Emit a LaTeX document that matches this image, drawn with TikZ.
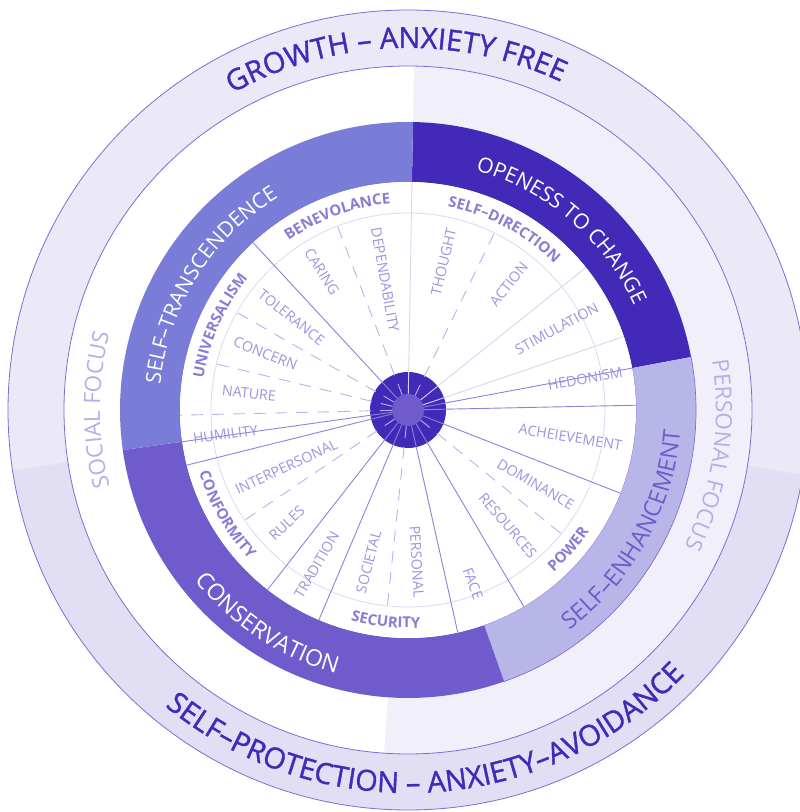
\documentclass[tikz,border=0pt]{standalone}
\usepackage{fontspec}
\setmainfont{Open Sans}
\newfontface\outerfont[FakeBold=1.2]{Open Sans}
\usetikzlibrary{decorations.text}
\definecolor{darkv}{HTML}{4329B8}
\definecolor{consv}{HTML}{6F5BCB}
\definecolor{transv}{HTML}{797DD7}
\definecolor{enhv}{HTML}{B8B6E9}
\definecolor{bandtop}{HTML}{EBE9F7}
\definecolor{bandbot}{HTML}{E2DEF4}
\definecolor{bandlight}{HTML}{F1F0FA}
\definecolor{edgev}{HTML}{7B6FD2}
\definecolor{spokemed}{HTML}{8C83D8}
\definecolor{spokelt}{HTML}{D8D4F2}
\definecolor{dashv}{HTML}{BAB3EA}
\definecolor{sublab}{HTML}{9D95E0}
\definecolor{catlab}{HTML}{877DD5}
\definecolor{focusv}{HTML}{B5AFE8}
\definecolor{innerc}{HTML}{DCD8F3}
\newcommand{\annsec}[5]{\fill[#1] (#2:#4) arc[start angle=#2,end angle=#3,radius=#4] -- (#3:#5) arc[start angle=#3,end angle=#2,radius=#5] -- cycle;}
\newcommand{\arctext}[5]{\path[decorate,decoration={text along path,text align=center,text={|#4|#5}}] (#2:#1) arc[start angle=#2,end angle=#3,radius=#1];}
\tikzset{
  sublabel/.style={text=sublab,font=\fontsize{14.3}{14.3}\selectfont,inner sep=0pt},
  spokeM/.style={draw=spokemed,line width=0.9pt},
  spokeL/.style={draw=spokelt,line width=0.9pt},
  spokeD/.style={draw=dashv,line width=0.9pt,dash pattern=on 12pt off 9pt},
}
\begin{document}
\begin{tikzpicture}[x=1pt,y=1pt]
\useasboundingbox (0,0) rectangle (800,812);
\clip (0,0) rectangle (800,812);
\fill[white] (0,0) rectangle (800,812);
\begin{scope}[shift={(408,402)}]
% outer band
\annsec{bandtop}{-9.3}{188.7}{400pt}{344pt}
\annsec{bandbot}{188.7}{350.7}{400pt}{344pt}
% inner band right half
\annsec{bandlight}{-94}{89}{344pt}{288pt}
\draw[edgev,line width=0.8pt] (0,0) circle[radius=400pt];
\draw[edgev,line width=0.8pt] (0,0) circle[radius=344pt];
% coloured ring
\annsec{darkv}{10.6}{89}{288pt}{228pt}
\annsec{enhv}{-70.5}{10.6}{288pt}{228pt}
\annsec{consv}{188}{289.5}{288pt}{228pt}
\annsec{transv}{89}{188}{288pt}{228pt}
\draw[edgev,line width=0.7pt] (-70.5:288pt) arc[start angle=-70.5,end angle=10.6,radius=288pt];
\draw[edgev,line width=0.7pt] (-70.5:228pt) arc[start angle=-70.5,end angle=10.6,radius=228pt];
% white disk
\fill[white] (0,0) circle[radius=228pt];
\draw[innerc,line width=0.8pt] (0,0) circle[radius=197pt];
% centre disk
\fill[darkv] (0,0) circle[radius=38pt];
% spokes
\foreach \a in {132.8,188,194,232,247,282.6,300.5,338.6,1.2,10.6}
  \draw[spokeM] (\a:16pt) -- (\a:228pt);
\foreach \a in {89,38.7,18.8}
  \draw[spokeL] (\a:16pt) -- (\a:228pt);
\foreach \a in {64,111,150.3,166.5,321.1,264,214}
  \draw[spokeD] (\a:16pt) -- (\a:197pt);
\draw[spokeD] (181.3:16pt) -- (181.3:228pt);
\fill[consv] (0,0) circle[radius=16pt];
% sub labels, right side
\node[sublabel,anchor=east,rotate=76.5] (thought) at (76.5:187pt) {THOUGHT};
\node[sublabel,anchor=east,rotate=51.3] (action) at (51.3:187pt) {ACTION};
\node[sublabel,anchor=east,rotate=28.7] (stim) at (28.7:216pt) {STIMULATION};
\node[sublabel,anchor=east,rotate=10] (hedon) at (10:218pt) {HEDONISM};
\node[sublabel,anchor=east,rotate=-9.5] (achiev) at (-9.5:217pt) {ACHEIEVEMENT};
\node[sublabel,anchor=east,rotate=-30.2] (domin) at (-30.2:191pt) {DOMINANCE};
\node[sublabel,anchor=east,rotate=-49.2] (resour) at (-49.2:193pt) {RESOURCES};
\node[sublabel,anchor=east,rotate=-69.5] (face) at (-69.5:202pt) {FACE};
\node[sublabel,anchor=east,rotate=-86.7] (personal) at (-86.7:188pt) {PERSONAL};
% sub labels, left side
\node[sublabel,anchor=west,rotate=75.5] (societal) at (-104.5:189pt) {SOCIETAL};
\node[sublabel,anchor=west,rotate=59.5] (tradition) at (-120.5:217pt) {TRADITION};
\node[sublabel,anchor=west,rotate=43] (rules) at (-137:187pt) {RULES};
\node[sublabel,anchor=west,rotate=25] (interp) at (-155:190pt) {INTERPERSONAL};
\node[sublabel,anchor=west,rotate=7.6] (humility) at (-172.4:217pt) {HUMILITY};
\node[sublabel,anchor=west,rotate=-6.1] (nature) at (173.9:187pt) {NATURE};
\node[sublabel,anchor=west,rotate=-21.6] (concern) at (158.4:187pt) {CONCERN};
\node[sublabel,anchor=west,rotate=-38.5] (toler) at (141.5:189pt) {TOLERANCE};
\node[sublabel,anchor=west,rotate=-58.1] (caring) at (121.9:189pt) {CARING};
\node[sublabel,anchor=west,rotate=-80] (depend) at (100:185pt) {DEPENDABILITY};
% category labels
\arctext{207pt}{150}{70}{\bfseries\fontsize{15}{15}\selectfont\color{catlab}}{BENEVOLANCE}
\arctext{207pt}{102}{22}{\bfseries\fontsize{15}{15}\selectfont\color{catlab}}{SELF–DIRECTION}
\arctext{207pt}{196}{116}{\bfseries\fontsize{15}{15}\selectfont\color{catlab}}{UNIVERSALISM}
\arctext{218pt}{170}{250}{\bfseries\fontsize{15}{15}\selectfont\color{catlab}}{CONFORMITY}
\arctext{218pt}{224}{304}{\bfseries\fontsize{15}{15}\selectfont\color{catlab}}{SECURITY}
\arctext{218pt}{-81}{-1}{\bfseries\fontsize{15}{15}\selectfont\color{catlab}}{POWER}
% ring labels
\arctext{249pt}{89.5}{9.5}{\fontsize{21}{21}\selectfont\color{white}}{OPENESS TO CHANGE}
\arctext{249pt}{187.7}{107.7}{\fontsize{21}{21}\selectfont\color{white}}{SELF–TRANSCENDENCE}
\arctext{273pt}{196.7}{276.7}{\fontsize{23}{23}\selectfont\color{white}}{CONSERVATION}
\arctext{273pt}{-69}{11}{\fontsize{23.5}{23.5}\selectfont\color{consv}}{SELF–ENHANCEMENT}
% focus labels
\arctext{308pt}{220}{140}{\fontsize{22.5}{22.5}\selectfont\color{focusv}}{SOCIAL FOCUS}
\arctext{308pt}{31.5}{-48.5}{\fontsize{22.5}{22.5}\selectfont\color{focusv}}{PERSONAL FOCUS}
% outer labels
\arctext{362pt}{152}{32}{\outerfont\fontsize{29}{29}\selectfont\color{darkv}}{GROWTH – ANXIETY FREE}
\arctext{383pt}{213.5}{333.5}{\outerfont\fontsize{29}{29}\selectfont\color{darkv}}{SELF–PROTECTION – ANXIETY–AVOIDANCE}
\end{scope}
\end{tikzpicture}
\end{document}
